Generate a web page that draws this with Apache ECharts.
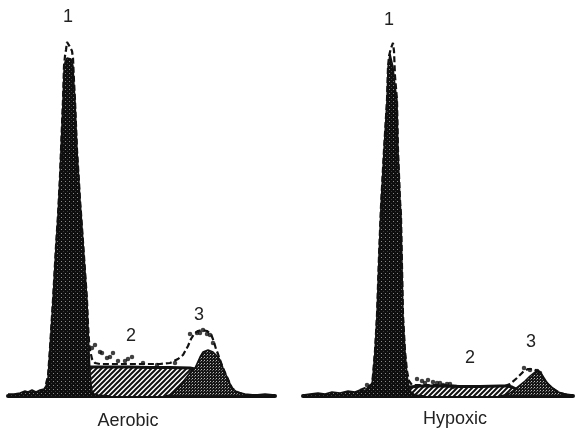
<!DOCTYPE html>
<html>
<head>
<meta charset="utf-8">
<script src="https://cdn.jsdelivr.net/npm/echarts@6/dist/echarts.min.js"></script>
<style>html,body{margin:0;padding:0;background:#fff}#c{width:582px;height:430px}</style>
</head>
<body>
<div id="c"></div>
<script>
// ---------- DATA (x = channel, y = counts) ----------
// Aerobic panel
const aerobicG1 = [[0,2],[6,2],[12,3],[17,5],[20,4],[24,6],[28,4],[32,6],[36,7],[38,10],[40,18],[42,48],[45,96],[48,150],[50,181],[52,220],[53,246],[55,296],[56,325],[57,334],[59,338],[61,339],[63,337],[65,330],[66,310],[67,296],[69,246],[71,214],[72,196],[73,183],[76,140],[79,96],[80,70],[81,45],[82,25],[83,12],[84,5],[86,2],[90,1],[102,0]];
const aerobicS = [[50,0],[54,5],[58,14],[62,20],[67,25],[72,28],[77,29],[82,29],[102,29],[122,29],[142,28.5],[162,28.5],[182,28],[187,27],[192,24],[202,14],[212,5],[220,0]];
const aerobicG2 = [[157,0],[162,1],[165,3],[172,10],[178,18],[184,26],[187,28],[189,30],[192,39],[195,44],[200,46],[205,44],[210,39],[212,36],[215,28],[219,19],[224,8],[229,4],[237,2],[247,1],[257,2],[267,1]];
const aerobicFit = [[38,12],[40,20],[42,48],[45,96],[48,150],[50,181],[52,220],[53,246],[55,296],[56,330],[57,340],[58,346],[59,354],[60,353],[62,349],[64,345],[65,338],[66,315],[67,296],[69,246],[71,214],[72,196],[73,183],[76,140],[79,96],[80,72],[81,55],[82,46],[84,37],[87,33],[92,32],[112,32],[132,32],[152,32],[162,33],[170,37],[175,41],[180,50],[183,57],[186,62],[190,65],[194,66],[199,65],[203,62],[206,54],[208,47],[210,42],[212,36],[215,28],[219,19],[224,8],[229,4],[237,1],[247,0]];
const aerobicObs = [[84,48],[87,51],[92,44],[94,43],[99,38],[102,39],[105,43],[110,35],[117,35],[120,37],[124,39],[135,33],[149,31],[167,33],[182,62],[189,63],[192,63],[195,66],[199,62],[202,61],[205,53]];

// Hypoxic panel
const hypoxicG1 = [[0,1],[7,2],[15,3],[22,2],[29,4],[37,3],[45,5],[52,4],[57,6],[62,5],[65,9],[67,8],[69,12],[70,21],[72,45],[74,81],[76,140],[78,190],[81,246],[84,296],[85,329],[87,342],[88,344],[89,342],[90,329],[92,310],[94,296],[95,246],[97,196],[98,181],[99,130],[100,81],[102,45],[104,21],[106,9],[108,4],[112,1],[122,0]];
const hypoxicS = [[92,0],[97,3],[102,7],[107,9],[117,10],[137,10],[157,9.5],[177,9.5],[197,10],[205,10],[209,9],[215,6],[222,3],[229,0]];
const hypoxicG2 = [[197,0],[202,1],[207,3],[212,7],[217,11],[222,15],[227,20],[232,24],[235,26],[238,23],[241,18],[245,12],[250,8],[255,4],[262,2],[270,1]];
const hypoxicFit = [[57,6],[65,9],[69,12],[70,21],[72,45],[74,81],[76,140],[78,190],[81,246],[84,296],[85,329],[86,340],[88,348],[90,353],[91,345],[92,320],[94,296],[95,246],[97,196],[98,181],[99,130],[100,81],[102,45],[104,25],[106,15],[109,11],[117,11],[137,11],[157,10],[177,10],[197,10],[202,10],[207,12],[214,18],[220,24],[225,27],[230,27],[235,25],[239,20],[243,14],[249,8],[257,3],[265,1]];
const hypoxicObs = [[64,11],[114,17],[119,15],[122,13],[125,16],[130,14],[134,13],[137,13],[140,11],[144,12],[147,12],[150,9],[221,28],[227,26],[234,25],[237,23]];

// Peak labels and panel titles
const peakLabels = ['1', '2', '3'];
const panelTitles = ['Aerobic', 'Hypoxic'];

// ---------- patterns ----------
function pattern(kind) {
  const c = document.createElement('canvas');
  const ctx = c.getContext('2d');
  if (kind === 'hatch') {
    c.width = 5; c.height = 5;
    ctx.fillStyle = '#fff'; ctx.fillRect(0, 0, 5, 5);
    ctx.strokeStyle = '#111'; ctx.lineWidth = 2;
    ctx.beginPath();
    ctx.moveTo(-1, 6); ctx.lineTo(6, -1);
    ctx.moveTo(-1, 1); ctx.lineTo(1, -1);
    ctx.moveTo(4, 6); ctx.lineTo(6, 4);
    ctx.stroke();
  } else if (kind === 'dark') {
    c.width = 4; c.height = 4;
    ctx.fillStyle = '#0e0e0e'; ctx.fillRect(0, 0, 4, 4);
    ctx.fillStyle = '#8a8a8a'; ctx.fillRect(1, 1, 1, 1);
    ctx.fillStyle = '#3a3a3a'; ctx.fillRect(3, 3, 1, 1);
  } else {
    c.width = 3; c.height = 3;
    ctx.fillStyle = '#161616'; ctx.fillRect(0, 0, 3, 3);
    ctx.fillStyle = '#bdbdbd'; ctx.fillRect(0, 0, 1, 1);
    ctx.fillStyle = '#666'; ctx.fillRect(2, 1, 1, 1);
  }
  return { image: c, repeat: 'repeat' };
}
const hatch = pattern('hatch'), dark = pattern('dark'), stip = pattern('stip');

function area(data, idx, fill, z, lw) {
  return { type: 'line', xAxisIndex: idx, yAxisIndex: idx, data: data, showSymbol: false, z: z,
    lineStyle: { color: '#111', width: lw }, areaStyle: { color: fill, opacity: 1 }, silent: true };
}
function fit(data, idx) {
  return { type: 'line', xAxisIndex: idx, yAxisIndex: idx, data: data, showSymbol: false, z: 6,
    lineStyle: { color: '#111', width: 2.2, type: [6, 3] }, silent: true };
}
function obs(data, idx) {
  return { type: 'scatter', xAxisIndex: idx, yAxisIndex: idx, data: data, symbolSize: 4.5, z: 7,
    itemStyle: { color: '#111' }, silent: true };
}
function xAx(idx, max) {
  return { type: 'value', gridIndex: idx, min: 0, max: max, axisTick: { show: false }, axisLabel: { show: false },
    splitLine: { show: false }, axisLine: { show: true, lineStyle: { color: '#111', width: 4 } } };
}
function yAx(idx) { return { type: 'value', gridIndex: idx, min: 0, max: 360, show: false }; }
function txt(s, x, y) {
  return { type: 'text', x: x, y: y, style: { text: s, font: '18px "Liberation Sans", Arial, sans-serif', fill: '#222', align: 'center', verticalAlign: 'middle' } };
}

const chart = echarts.init(document.getElementById('c'));
chart.setOption({
  animation: false,
  grid: [{ left: 8, top: 36, width: 267, height: 360 }, { left: 303, top: 36, width: 270, height: 360 }],
  xAxis: [xAx(0, 267), xAx(1, 270)],
  yAxis: [yAx(0), yAx(1)],
  series: [
    area(aerobicS, 0, hatch, 3, 3),
    area(aerobicG1, 0, dark, 4, 1.5),
    area(aerobicG2, 0, stip, 5, 1.5),
    fit(aerobicFit, 0),
    obs(aerobicObs, 0),
    area(hypoxicS, 1, hatch, 3, 3),
    area(hypoxicG1, 1, dark, 4, 1.5),
    area(hypoxicG2, 1, stip, 5, 1.5),
    fit(hypoxicFit, 1),
    obs(hypoxicObs, 1)
  ],
  graphic: [
    txt(peakLabels[0], 68, 17), txt(peakLabels[1], 131, 336), txt(peakLabels[2], 199, 315),
    txt(peakLabels[0], 389, 20), txt(peakLabels[1], 470, 358), txt(peakLabels[2], 531, 342),
    txt(panelTitles[0], 128, 421), txt(panelTitles[1], 455, 419)
  ]
});
</script>
</body>
</html>
